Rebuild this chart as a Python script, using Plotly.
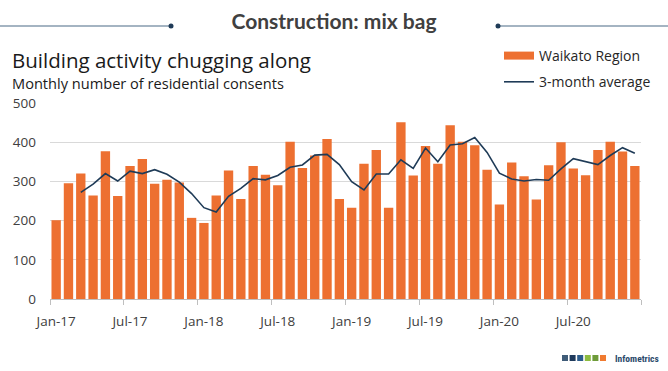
import plotly.graph_objects as go

# ---- data ----
month_labels = ["Jan-17", "Feb-17", "Mar-17", "Apr-17", "May-17", "Jun-17",
                "Jul-17", "Aug-17", "Sep-17", "Oct-17", "Nov-17", "Dec-17",
                "Jan-18", "Feb-18", "Mar-18", "Apr-18", "May-18", "Jun-18",
                "Jul-18", "Aug-18", "Sep-18", "Oct-18", "Nov-18", "Dec-18",
                "Jan-19", "Feb-19", "Mar-19", "Apr-19", "May-19", "Jun-19",
                "Jul-19", "Aug-19", "Sep-19", "Oct-19", "Nov-19", "Dec-19",
                "Jan-20", "Feb-20", "Mar-20", "Apr-20", "May-20", "Jun-20",
                "Jul-20", "Aug-20", "Sep-20", "Oct-20", "Nov-20", "Dec-20"]

waikato_consents = [201, 295, 320, 264, 377, 263, 339, 357, 294, 304, 297, 207,
                    194, 264, 328, 255, 339, 317, 290, 401, 334, 366, 408, 255,
                    233, 345, 380, 233, 451, 315, 390, 345, 443, 401, 392, 330,
                    241, 348, 313, 254, 341, 400, 333, 316, 380, 401, 376, 339]

three_month_avg = [None, None, 272, 293, 320, 301, 326, 320, 330, 318, 298, 269,
                   233, 222, 262, 282, 307, 304, 315, 336, 342, 367, 369, 343,
                   299, 278, 319, 319, 355, 333, 385, 350, 393, 396, 412, 374,
                   321, 306, 301, 305, 303, 332, 358, 350, 343, 366, 386, 372]

tick_labels = ["Jan-17", "Jul-17", "Jan-18", "Jul-18", "Jan-19", "Jul-19", "Jan-20", "Jul-20"]

series_names = ["Waikato Region", "3-month average"]

# ---- styling ----
ORANGE = "#ED7031"
NAVY = "#1F3B57"
TEXT = "#404040"
FONT = "Open Sans"

x_idx = list(range(len(month_labels)))
tick_positions = [month_labels.index(t) for t in tick_labels]

# plot-area geometry (pixels) used to convert decorative positions into paper coords
W, H = 668, 371
L, R, T, B = 50, 27, 103, 72
PW, PH = W - L - R, H - T - B


def px(x):
    return (x - L) / PW


def py(y):
    return (H - B - y) / PH


fig = go.Figure()

fig.add_trace(go.Bar(
    x=x_idx, y=waikato_consents, name=series_names[0],
    marker=dict(color=ORANGE, line=dict(width=0)),
    showlegend=False, hovertext=month_labels,
))
# legend swatch for the bars (wide rectangle like the original)
fig.add_trace(go.Scatter(
    x=[None], y=[None], mode="lines", name=series_names[0],
    line=dict(color=ORANGE, width=8), legendgroup="a", legendrank=1,
))
fig.add_trace(go.Scatter(
    x=x_idx, y=three_month_avg, mode="lines", name=series_names[1],
    line=dict(color=NAVY, width=1.6), legendgroup="b", legendrank=2,
    connectgaps=False, hovertext=month_labels,
))

fig.update_layout(
    width=W, height=H,
    margin=dict(l=L, r=R, t=T, b=B),
    paper_bgcolor="white", plot_bgcolor="white",
    bargap=0.24,
    font=dict(family=FONT, color=TEXT, size=13),
    title=dict(text="<b>Construction: mix bag</b>", x=0.5, xanchor="center",
               xref="container", y=1 - 22 / H, yanchor="middle", yref="container",
               font=dict(family="Lato", size=21, color=TEXT)),
    legend=dict(x=px(499), xanchor="left", y=py(40), yanchor="top",
                font=dict(family=FONT, size=14, color="#262626"),
                bgcolor="rgba(0,0,0,0)", tracegroupgap=5, itemwidth=30),
    showlegend=True,
)

fig.update_xaxes(
    range=[-0.5, len(month_labels) - 0.5],
    tickmode="array", tickvals=tick_positions, ticktext=tick_labels,
    ticks="", showgrid=False, zeroline=False,
    showline=True, linecolor="#BFBFBF", linewidth=1,
    tickfont=dict(family=FONT, size=13.5, color=TEXT),
    ticklabelstandoff=10,
    minor=dict(ticks="outside", tick0=-0.5, dtick=6, ticklen=5,
               tickcolor="#BFBFBF", tickwidth=1, showgrid=False),
)
fig.update_yaxes(
    range=[0, 500], dtick=100, tick0=0,
    showgrid=True, gridcolor="#D9D9D9", gridwidth=1,
    zeroline=False, showline=False, ticks="",
    tickfont=dict(family=FONT, size=13.5, color=TEXT),
    ticklabelstandoff=13,
)

# header rule lines with dots
HEADER_LINE = "#4A6A85"
shapes = [
    dict(type="line", xref="paper", yref="paper", x0=px(0), x1=px(171),
         y0=py(26), y1=py(26), line=dict(color=HEADER_LINE, width=1.2)),
    dict(type="line", xref="paper", yref="paper", x0=px(498), x1=px(668),
         y0=py(26), y1=py(26), line=dict(color=HEADER_LINE, width=1.2)),
]
for cx in (171, 498):
    shapes.append(dict(type="circle", xref="paper", yref="paper",
                       xsizemode="pixel", ysizemode="pixel",
                       xanchor=px(cx), yanchor=py(26), x0=-2.5, x1=2.5, y0=-2.5, y1=2.5,
                       fillcolor="#1F3B57", line=dict(width=0)))

# logo squares
logo_colors = ["#3F5C78", "#1F3A5C", "#2D5C8C", "#8DBB3F", "#6E9B3A", "#F07A30"]
for i, c in enumerate(logo_colors):
    x0 = 562 + i * 7.6
    shapes.append(dict(type="rect", xref="paper", yref="paper",
                       x0=px(x0), x1=px(x0 + 6.0), y0=py(361), y1=py(355),
                       fillcolor=c, line=dict(width=0)))
fig.update_layout(shapes=shapes)

annotations = [
    dict(text="Building activity chugging along", xref="paper", yref="paper",
         x=px(10), y=py(60), xanchor="left", yanchor="middle", showarrow=False,
         font=dict(family=FONT, size=20.5, color="#1A1A1A")),
    dict(text="Monthly number of residential consents", xref="paper", yref="paper",
         x=px(10), y=py(83), xanchor="left", yanchor="middle", showarrow=False,
         font=dict(family=FONT, size=14.6, color="#1A1A1A")),
    dict(text="<b>Infometrics</b>", xref="paper", yref="paper",
         x=px(661), y=py(358), xanchor="right", yanchor="middle", showarrow=False,
         font=dict(family="Liberation Sans Narrow, Roboto Condensed, Roboto", size=9.5,
                   color="#2B4A6B")),
]
fig.update_layout(annotations=annotations)

fig.write_html("out.html", config={"displayModeBar": False},
               post_script="document.body.style.margin='0px';")
